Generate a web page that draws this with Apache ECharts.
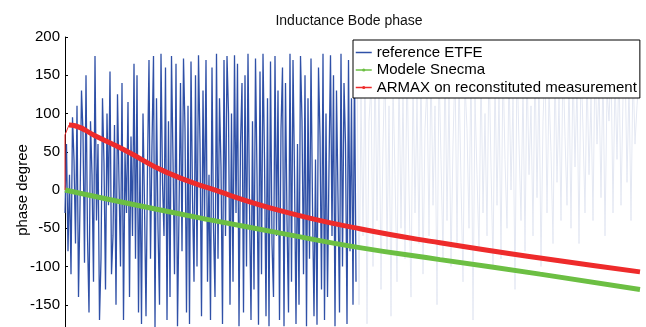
<!DOCTYPE html>
<html>
<head>
<meta charset="utf-8">
<script src="https://cdn.jsdelivr.net/npm/echarts@6/dist/echarts.min.js"></script>
<style>
  html, body { margin: 0; padding: 0; overflow: hidden; background: #fff; }
  #chart { width: 646px; height: 350px; }
</style>
</head>
<body>
<div id="chart"></div>
<script>
// y axis ticks
const yTicks = [-200, -150, -100, -50, 0, 50, 100, 150, 200]

// reference ETFE, dense part (one value every 1.5 px step)
const etfeDense = [
  -30, 60, -80, 20, -110, 95, 40, -70, 110, -140, -20, 130, 75, -95, 150, -60, -160, 90, 20, -120,
  175, -40, 60, -170, -90, 120, 35, -130, 100, -20, 155, -110, -60, 85, -150, 125, 10, -100, 140, -170,
  50, -30, 115, -140, 70, -60, 165, -90,
  150, -160, 40, -175, 100, -20, -165, 30, 170, -90, 60, 175, -180, 120, -50, -150, 178, 10, -60, 160,
  -170, 90, -140, 175, 40, -110, 165, -178, -30, 140, -80, 172, 80, -160, 110, -175, 168, -10, -120, 150,
  -100, 176, 60, -165, 130, -40, 170, -120, 20,
  -170, 160, -50, -140, 178, -90, 120, 30, -175, 170, -60, 175, 100, -150, 100, -120, 176, -30, 165, -178,
  60, 140, -160, 150, -100, 178, -20, -170, 90, -130, 172, 20, -176, 155, -110, 178, 40, -165, 120, -178,
  168, -70, -140, 175, -60, 130, -170, 80, 160,
  -178, 140, -40, -160, 178, -120, 170, 20, -175, 60, -150, 175, 90, -110, 150, -178, 120, -90, 172, -20,
  -165, 40, -176, 160, 70, -130, 178, -170, 100, -140, 30, 176, -60, 150, -178, 130, -10, -160, 178, -100,
  140, 60, -175, 170, -80, 120, -150, 165, -120
]
// reference ETFE, faded part (one value every 2 px step)
const etfeFaint = [
  170, -150, 120, -60, 165, -175, 90, 140, -100, 175, -40, 150, -130, 60, 172, -80, 110, -165, 140, 20,
  -120, 160, -50, 130, -90, 175, 0, -140, 150, -30, 120, -70, 168, -110, 80, 140,
  -60, 170, -20, 110, -150, 160, 40, -90, 175, -40, 130, -100, 60, 165, -70, 150, 10, -120, 140, 80,
  -50, 170, -170, 120, 20, -80, 160, -30, 100, -60, 176, 30, -100, 150, -20, 130,
  -90, 170, 40, -50, 160, 0, 120, -130, 175, 60, -40, 140, -80, 165, 20, 110, -60, 170, -10, 150,
  -100, 90, 172, -30, 130, 50, -70, 160, 10, 120, -40, 175, 70, -20, 150,
  -50, 165, 30, 140, -70, 170, 80, -30, 155, 20, 120, -40, 175, 60, 140, -10, 160, -60, 130, 90,
  170, -30, 150, 40, 165, -20, 120, 175, 10, 140, -40, 160, 60, 110, 150
]

// Modele Snecma
const snecmaX = [0, 72, 145, 218, 293, 375, 475, 575]
const snecmaY = [0, -20, -39, -57, -75, -91, -110, -130]

// ARMAX on reconstituted measurement
const armaxX = [4, 10, 30, 60, 100, 145, 218, 296, 375, 475, 575]
const armaxY = [85, 84, 71, 52, 24, 2, -28, -51, -69, -89, -107]
const armaxStartX = [0, 0, 4]
const armaxStartY = [0, 72, 85]

const denseData = etfeDense.map((v, i) => [i * 1.5, v])
const faintData = etfeFaint.map((v, i) => [292 + i * 2, v])
const zip = (xs, ys) => xs.map((x, i) => [x, ys[i]])

const chart = echarts.init(document.getElementById('chart'))
chart.setOption({
  animation: false,
  title: {
    text: 'Inductance Bode phase',
    left: 344,
    top: 9,
    textAlign: 'center',
    textStyle: { fontFamily: 'Liberation Sans', fontSize: 14, fontWeight: 'normal', color: '#111' }
  },
  grid: { left: 65, right: 6, top: 37, bottom: 7, outerBoundsMode: 'none' },
  legend: {
    orient: 'vertical',
    left: 353,
    top: 40,
    data: [
      { name: 'reference ETFE', itemStyle: { opacity: 0 } },
      'Modele Snecma',
      'ARMAX on reconstituted measurement'
    ],
    backgroundColor: '#fff',
    borderColor: '#000',
    borderWidth: 1,
    borderRadius: 0,
    padding: [5, 3, 3, 2],
    itemWidth: 16,
    itemHeight: 4,
    itemGap: 2.5,
    lineStyle: { width: 1.5 },
    textStyle: { fontFamily: 'Liberation Sans', fontSize: 15, color: '#000', lineHeight: 15 }
  },
  xAxis: {
    type: 'value',
    min: 0,
    max: 575,
    show: false
  },
  yAxis: {
    type: 'value',
    min: yTicks[0],
    max: yTicks[yTicks.length - 1],
    interval: 50,
    name: 'phase degree',
    nameLocation: 'middle',
    nameGap: 35,
    nameMoveOverlap: false,
    nameTextStyle: { fontFamily: 'Liberation Sans', fontSize: 15, color: '#000' },
    axisLine: { show: true, lineStyle: { color: '#000', width: 1 } },
    axisTick: { show: true, inside: true, length: 3, lineStyle: { color: '#000' } },
    axisLabel: { fontFamily: 'Liberation Sans', fontSize: 15, color: '#000', margin: 5 },
    splitLine: { show: false }
  },
  series: [
    {
      name: 'etfe faint',
      type: 'line',
      data: faintData,
      symbol: 'none',
      lineStyle: { color: '#e4e8f3', width: 1 },
      z: 1
    },
    {
      name: 'reference ETFE',
      type: 'line',
      data: denseData,
      symbol: 'none',
      color: '#2f50a7',
      lineStyle: { color: '#2f50a7', width: 1.3 },
      z: 2
    },
    {
      name: 'Modele Snecma',
      type: 'line',
      data: zip(snecmaX, snecmaY),
      symbol: 'circle',
      symbolSize: 4,
      showSymbol: false,
      smooth: true,
      color: '#6cbf43',
      lineStyle: { color: '#6cbf43', width: 5 },
      z: 3
    },
    {
      name: 'armax start',
      type: 'line',
      data: zip(armaxStartX, armaxStartY),
      symbol: 'none',
      lineStyle: { color: '#ee2b2b', width: 1 },
      z: 4
    },
    {
      name: 'ARMAX on reconstituted measurement',
      type: 'line',
      data: zip(armaxX, armaxY),
      symbol: 'circle',
      symbolSize: 4,
      showSymbol: false,
      smooth: true,
      color: '#ee2b2b',
      lineStyle: { color: '#ee2b2b', width: 5 },
      z: 4
    }
  ]
})
</script>
</body>
</html>
